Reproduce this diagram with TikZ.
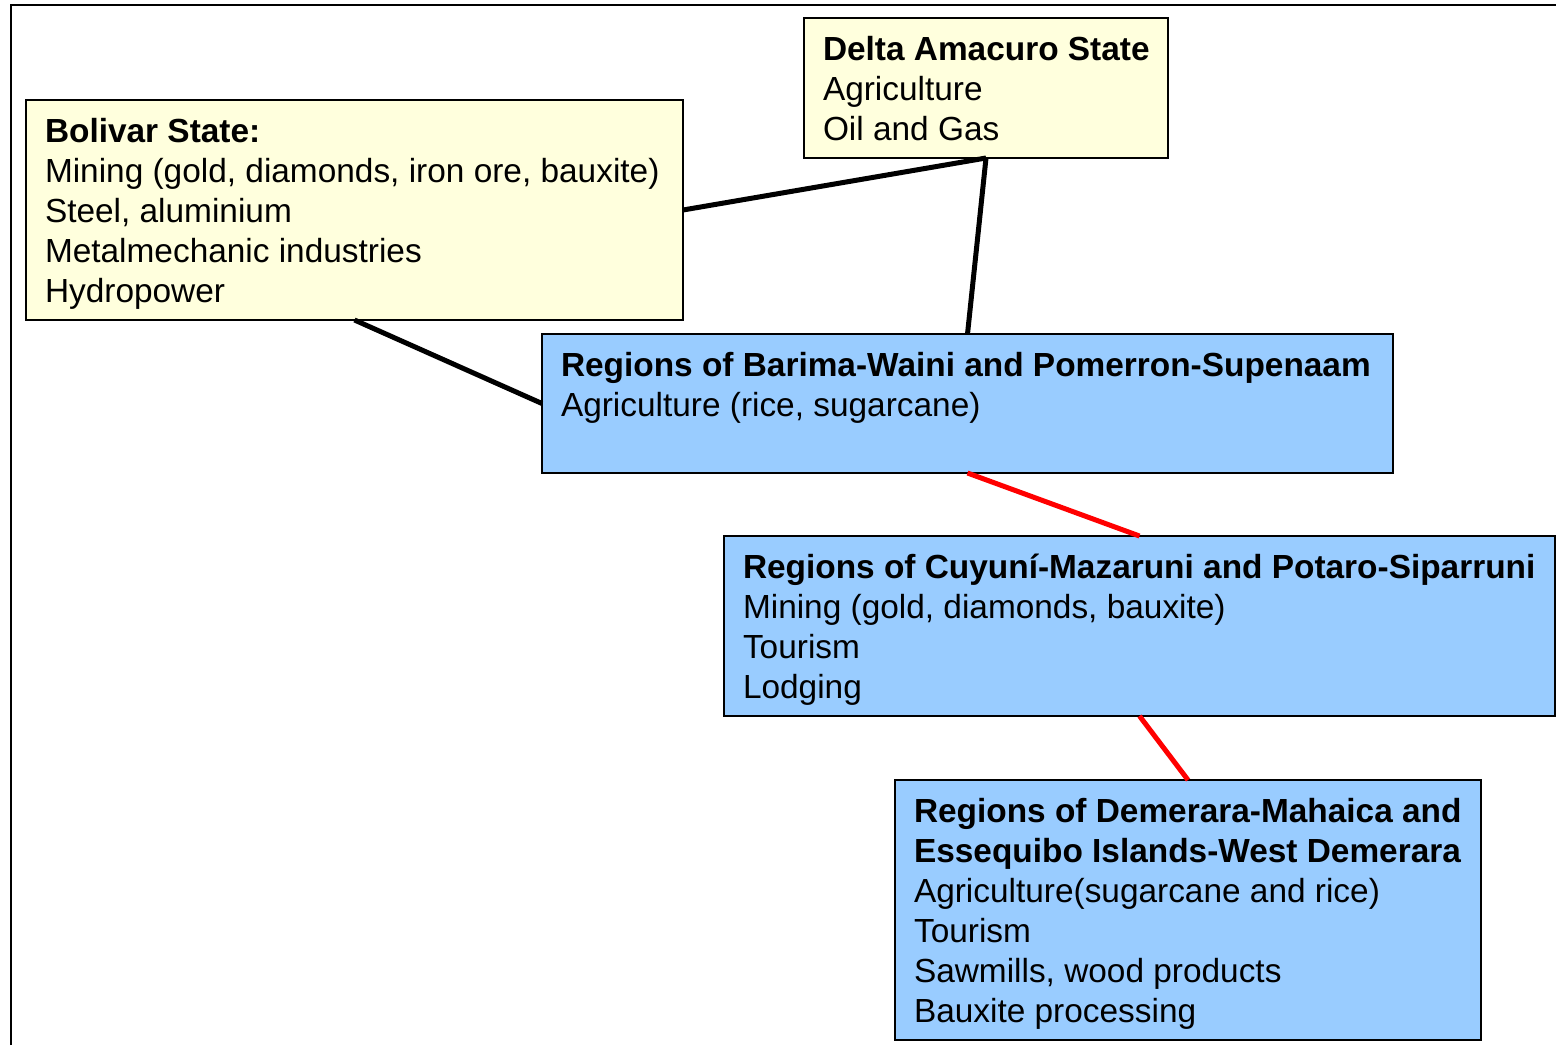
\documentclass[tikz,border=0pt]{standalone}
\usepackage{fontspec}
\setmainfont{Liberation Sans}
\definecolor{paleyellow}{HTML}{FFFFDD}
\definecolor{skyblue}{HTML}{99CCFF}
\newcommand{\firstline}{\rule{0pt}{16pt}}
\begin{document}
\begin{tikzpicture}[x=0.5pt,y=-0.5pt,
  region/.style={draw=black, line width=1pt, outer sep=0pt, inner sep=0pt, rectangle},
  statebox/.style={region, fill=paleyellow},
  guybox/.style={region, fill=skyblue},
  txt/.style={anchor=north west, align=left, inner sep=0pt, outer sep=0pt,
    font=\fontsize{16.7}{20}\selectfont},
  link/.style={line width=2.5pt, black},
  redlink/.style={line width=2.5pt, red},
  frame/.style={line width=1.2pt, black}]
\useasboundingbox (0,0) rectangle (1556,1045);

% outer frame
\coordinate (fbl) at (11,1045);
\coordinate (ftl) at (11,5);
\coordinate (ftr) at (1556,5);
\draw[frame] (fbl) -- (ftl) -- (ftr);

% boxes
\node[statebox, minimum width=328.5pt, minimum height=110pt] (bol) at (354.5,210) {};
\node[statebox, minimum width=182pt, minimum height=70pt] (del) at (986,88) {};
\node[guybox, minimum width=425.5pt, minimum height=69.5pt] (bar) at (967.5,403.5) {};
\node[guybox, minimum width=415.5pt, minimum height=90pt] (cuy) at (1139.5,626) {};
\node[guybox, minimum width=293pt, minimum height=130pt] (dem) at (1188,910) {};

% box texts
\node[txt] (bolt) at ([shift={(19,10)}]bol.north west)
  {\firstline\textbf{Bolivar State:}\\Mining (gold, diamonds, iron ore, bauxite)\\Steel, aluminium\\Metalmechanic industries\\Hydropower};
\node[txt] (delt) at ([shift={(19,10)}]del.north west)
  {\firstline\textbf{Delta Amacuro State}\\Agriculture\\Oil and Gas};
\node[txt] (bart) at ([shift={(19,10)}]bar.north west)
  {\firstline\textbf{Regions of Barima-Waini and Pomerron-Supenaam}\\Agriculture (rice, sugarcane)};
\node[txt] (cuyt) at ([shift={(19,10)}]cuy.north west)
  {\firstline\textbf{Regions of Cuyuní-Mazaruni and Potaro-Siparruni}\\Mining (gold, diamonds, bauxite)\\Tourism\\Lodging};
\node[txt] (demt) at ([shift={(19,10)}]dem.north west)
  {\firstline\textbf{Regions of Demerara-Mahaica and}\\\textbf{Essequibo Islands-West Demerara}\\Agriculture(sugarcane and rice)\\Tourism\\Sawmills, wood products\\Bauxite processing};

% connectors
\draw[link] (bol.east) -- (del.south);
\draw[link] (del.south) -- (bar.north);
\draw[link] (bol.south) -- (bar.west);
\draw[redlink] (bar.south) -- (cuy.north);
\draw[redlink] (cuy.south) -- (dem.north);
\end{tikzpicture}
\end{document}
